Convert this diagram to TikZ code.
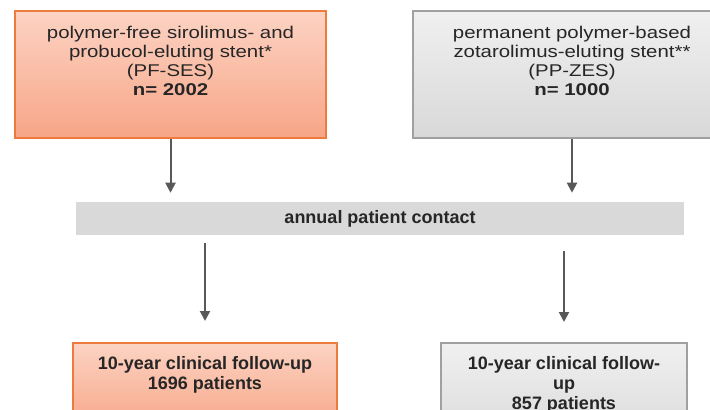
\documentclass[tikz,border=0pt]{standalone}
\usepackage{fontspec}
\setmainfont{Liberation Sans}
\newfontfamily\armfont[FakeStretch=1.2]{Liberation Sans}
\usetikzlibrary{arrows.meta}
\definecolor{pfborder}{HTML}{EE7B3E}
\definecolor{pftop}{HTML}{FCD3C3}
\definecolor{pfbottom}{HTML}{F7A587}
\definecolor{zesborder}{HTML}{A0A0A0}
\definecolor{zestop}{HTML}{F0F0F0}
\definecolor{zesbottom}{HTML}{D8D8D8}
\definecolor{barfill}{HTML}{D9D9D9}
\definecolor{arrowgray}{HTML}{585858}
\definecolor{txt}{HTML}{262626}

\begin{document}
\begin{tikzpicture}[
    x=0.75pt, y=0.75pt,
    box/.style={draw, line width=1.5pt, align=center, anchor=north, inner xsep=2pt, text=txt},
    pf/.style={box, draw=pfborder, top color=pftop, bottom color=pfbottom},
    zes/.style={box, draw=zesborder, top color=zestop, bottom color=zesbottom},
    arm/.style={inner ysep=11.25pt, text depth=21pt, font=\armfont\fontsize{12.75}{14.25}\selectfont},
    fu/.style={inner ysep=10pt, text depth=21pt, font=\bfseries\fontsize{13.5}{15}\selectfont},
    contact/.style={fill=barfill, minimum width=456pt, minimum height=24.75pt, text=txt, font=\bfseries\fontsize{13.5}{15}\selectfont},
    flow/.style={draw=arrowgray, line width=1.5pt, -{Triangle[width=7.5pt,length=7.5pt]}}
]
    \useasboundingbox (0,0) rectangle (710,-410);
    \clip (0,0) rectangle (710,-410);

    % Bracci dello studio
    \node[pf, arm, minimum width=233pt] (pfses) at (170.5,-10)
        {polymer-free sirolimus- and\\probucol-eluting stent*\\(PF-SES)\\\textbf{n= 2002}};
    \node[zes, arm, minimum width=238.5pt] (ppzes) at (572,-10)
        {permanent polymer-based\\zotarolimus-eluting stent**\\(PP-ZES)\\\textbf{n= 1000}};

    % Contatto annuale
    \node[contact] (contact) at (380,-218.5) {annual patient contact};

    % Follow-up a 10 anni
    \node[pf, fu, minimum width=198pt] (fupf) at (205,-342)
        {10-year clinical follow-up\\1696 patients};
    \node[zes, fu, minimum width=184.5pt] (fuzes) at (564,-342)
        {10-year clinical follow-\\up\\857 patients};

    % Frecce
    \draw[flow, shorten >=6.75pt] (pfses.south) -- (pfses.south |- contact.north);
    \draw[flow, shorten >=6.75pt] (ppzes.south) -- (ppzes.south |- contact.north);
    \draw[flow, shorten <=6pt, shorten >=15.75pt] (fupf.north |- contact.south) -- (fupf.north);
    \draw[flow, shorten <=12pt, shorten >=15pt] (fuzes.north |- contact.south) -- (fuzes.north);
\end{tikzpicture}
\end{document}
